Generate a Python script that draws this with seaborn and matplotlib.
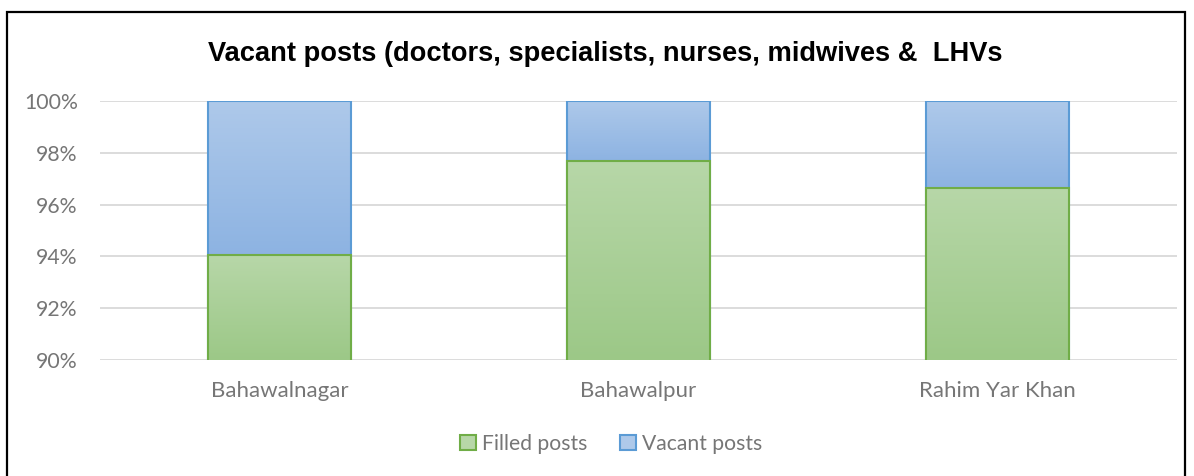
import numpy as np
import pandas as pd
import matplotlib.pyplot as plt
import matplotlib.ticker as ticker
from matplotlib.patches import Patch, Rectangle
from matplotlib.colors import LinearSegmentedColormap
import seaborn as sns

# ── Data ─────────────────────────────────────────────────────────────────────
districts = ["Bahawalnagar", "Bahawalpur", "Rahim Yar Khan"]
filled = [94.05, 97.67, 96.65]          # % filled posts
vacant = [5.95, 2.33, 3.35]             # % vacant posts
yticks = [90, 92, 94, 96, 98, 100]

df = pd.DataFrame({"district": districts, "filled": filled, "vacant": vacant})
df["total"] = df["filled"] + df["vacant"]

# ── Style ────────────────────────────────────────────────────────────────────
sns.set_style("white")
plt.rcParams["font.family"] = ["Lato", "DejaVu Sans"]

GREEN_TOP, GREEN_BOT, GREEN_EDGE = "#b7d7a8", "#9cc887", "#70ad47"
BLUE_TOP, BLUE_BOT, BLUE_EDGE = "#aec9ea", "#8db3e2", "#5b9bd5"
GREY_TXT = "#767676"

fig = plt.figure(figsize=(11.94, 4.76), dpi=100)
ax = fig.add_axes([0.0838, 0.2437, 0.9020, 0.5441])

# vacant stacked on filled: draw total first, then filled over it
sns.barplot(data=df, x="district", y="total", color=BLUE_BOT, width=0.4,
            edgecolor=BLUE_EDGE, linewidth=1.5, ax=ax, zorder=2)
n_blue = len(ax.patches)
sns.barplot(data=df, x="district", y="filled", color=GREEN_BOT, width=0.4,
            edgecolor=GREEN_EDGE, linewidth=1.5, ax=ax, zorder=3)

# ── Gradient fills clipped to each bar ───────────────────────────────────────
grad = np.linspace(0, 1, 256).reshape(-1, 1)
for i, p in enumerate(ax.patches):
    is_blue = i < n_blue
    top, bot = (BLUE_TOP, BLUE_BOT) if is_blue else (GREEN_TOP, GREEN_BOT)
    cm = LinearSegmentedColormap.from_list("g", [top, bot])
    x0, w = p.get_x(), p.get_width()
    y0 = filled[i] if is_blue else 90
    y1 = p.get_height()
    im = ax.imshow(grad, cmap=cm, aspect="auto", extent=(x0, x0 + w, y0, y1),
                   origin="upper", zorder=p.get_zorder() - 0.05)
    im.set_clip_path(p)
    p.set_facecolor("none")

ax.set_ylim(90, 100)
ax.set_xlim(-0.5, 2.5)

# ── Axes styling ─────────────────────────────────────────────────────────────
ax.set_yticks(yticks)
ax.yaxis.set_major_formatter(ticker.FuncFormatter(lambda v, _: f"{v:.0f}%"))
ax.grid(axis="y", color="#d9d9d9", linewidth=1.3)
ax.set_axisbelow(True)
for s in ax.spines.values():
    s.set_visible(False)
ax.tick_params(axis="both", length=0, labelcolor=GREY_TXT)
ax.tick_params(axis="y", pad=16, labelsize=15.3)
ax.tick_params(axis="x", pad=15, labelsize=16)
ax.set_xlabel("")
ax.set_ylabel("")

# ── Title ────────────────────────────────────────────────────────────────────
fig.text(0.507, 0.887, "Vacant posts (doctors, specialists, nurses, midwives &  LHVs",
         ha="center", va="center", fontsize=19.6, fontweight="bold", color="black",
         family=["Liberation Sans", "DejaVu Sans"])

# ── Legend ───────────────────────────────────────────────────────────────────
handles = [Patch(facecolor=GREEN_TOP, edgecolor=GREEN_EDGE, linewidth=1.5, label="Filled posts"),
           Patch(facecolor=BLUE_TOP, edgecolor=BLUE_EDGE, linewidth=1.5, label="Vacant posts")]
leg = fig.legend(handles=handles, loc="center", bbox_to_anchor=(0.512, 0.067), ncol=2,
                 frameon=False, fontsize=15.2, handlelength=0.75, handleheight=0.75,
                 handletextpad=0.3, columnspacing=1.55)
for t in leg.get_texts():
    t.set_color(GREY_TXT)

# ── Outer frame ──────────────────────────────────────────────────────────────
fig.patches.append(Rectangle((0.006, -0.02), 0.9866, 0.995, transform=fig.transFigure,
                             fill=False, edgecolor="black", linewidth=1.6))

fig.savefig("out.png", dpi=100)
